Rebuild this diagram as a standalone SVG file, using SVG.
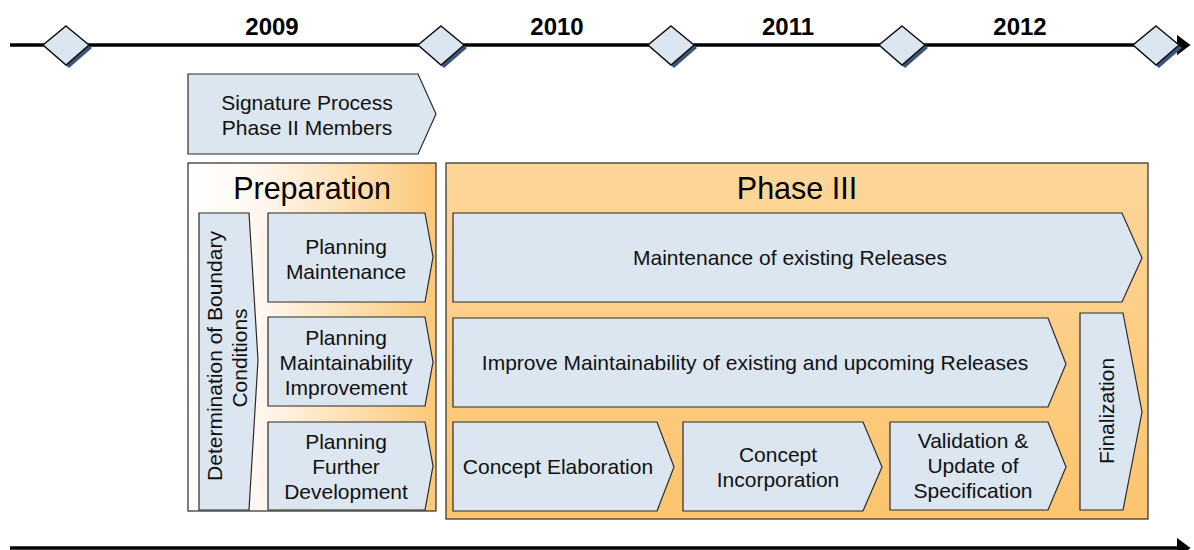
<svg xmlns="http://www.w3.org/2000/svg" width="1194" height="550" viewBox="0 0 1194 550">
<style>
.box{fill:#dce6f0;stroke:#2b2b2b;stroke-width:1.2}
.dia{fill:#dce6f0;stroke:#111;stroke-width:1.5}
.sh{fill:#3a5577}
.t{font-family:"Liberation Sans",Arial,sans-serif;font-size:21px;fill:#111;text-anchor:middle}
.yr{font-family:"Liberation Sans",Arial,sans-serif;font-size:24px;font-weight:bold;fill:#000;text-anchor:middle}
.ttl{font-family:"Liberation Sans",Arial,sans-serif;font-size:30.5px;fill:#000;text-anchor:middle}
.line{stroke:#000;stroke-width:3.5;fill:none}
</style>
<defs>
<marker id="ah" markerWidth="6" markerHeight="6" refX="1" refY="3" orient="auto" markerUnits="strokeWidth">
<path d="M0,0 L4,3 L0,6 Z" fill="#000"/>
</marker>
<linearGradient id="gPrep" x1="0" y1="0" x2="1" y2="0">
<stop offset="0" stop-color="#ffffff"/>
<stop offset="0.3" stop-color="#fff7ee"/>
<stop offset="1" stop-color="#fcc877"/>
</linearGradient>
<linearGradient id="gPh3" x1="0" y1="0" x2="0" y2="1">
<stop offset="0" stop-color="#fdd699"/>
<stop offset="1" stop-color="#fcc46e"/>
</linearGradient>
</defs>
<rect width="1194" height="550" fill="#fff"/>

<g id="connectors">
<line class="line" x1="10" y1="45" x2="1180" y2="45" marker-end="url(#ah)"/>
<line class="line" x1="10" y1="548" x2="1180" y2="548" stroke-width="3" marker-end="url(#ah)"/>
</g>

<g id="milestones">
<g id="m0"><polygon class="sh" points="69,29 92,48 69,68 46,48"/><polygon class="dia" points="66,26 89,45 66,65 43,45"/></g>
<g id="m1"><polygon class="sh" points="444,29 467,48 444,68 421,48"/><polygon class="dia" points="441,26 464,45 441,65 418,45"/></g>
<g id="m2"><polygon class="sh" points="674,29 697,48 674,68 651,48"/><polygon class="dia" points="671,26 694,45 671,65 648,45"/></g>
<g id="m3"><polygon class="sh" points="905,29 928,48 905,68 882,48"/><polygon class="dia" points="902,26 925,45 902,65 879,45"/></g>
<g id="m4"><polygon class="sh" points="1159,29 1182,48 1159,68 1136,48"/><polygon class="dia" points="1156,26 1179,45 1156,65 1133,45"/></g>
</g>

<g id="years">
<text class="yr" x="272" y="35">2009</text>
<text class="yr" x="557" y="35">2010</text>
<text class="yr" x="788" y="35">2011</text>
<text class="yr" x="1020" y="35">2012</text>
</g>

<g id="signature">
<polygon class="box" points="188,74 418,74 436,114 418,154 188,154"/>
<text class="t" x="307" y="110">Signature Process</text>
<text class="t" x="307" y="135">Phase II Members</text>
</g>

<g id="preparation">
<rect x="188" y="163" width="248" height="348" fill="url(#gPrep)" stroke="#2b2b2b" stroke-width="1.2"/>
<text class="ttl" x="312" y="199">Preparation</text>
</g>

<g id="boundary">
<polygon class="box" points="199,213 249,213 258,360 249,510 199,510"/>
<text class="t" transform="translate(222,356) rotate(-90)">Determination of Boundary</text>
<text class="t" transform="translate(247,358) rotate(-90)">Conditions</text>
</g>

<g id="planMaint">
<polygon class="box" points="268,213 425,213 433,257 425,302 268,302"/>
<text class="t" x="346" y="254">Planning</text>
<text class="t" x="346" y="279">Maintenance</text>
</g>

<g id="planImprove">
<polygon class="box" points="268,317 425,317 433,362 425,406 268,406"/>
<text class="t" x="346" y="345">Planning</text>
<text class="t" x="346" y="370">Maintainability</text>
<text class="t" x="346" y="395">Improvement</text>
</g>

<g id="planFurther">
<polygon class="box" points="268,422 425,422 433,466 425,510 268,510"/>
<text class="t" x="346" y="449">Planning</text>
<text class="t" x="346" y="474">Further</text>
<text class="t" x="346" y="499">Development</text>
</g>

<g id="phase3">
<rect x="446" y="163" width="702" height="356" fill="url(#gPh3)" stroke="#2b2b2b" stroke-width="1.2"/>
<text class="ttl" x="797" y="199">Phase III</text>
</g>

<g id="maintExisting">
<polygon class="box" points="453,213 1122,213 1142,258 1122,302 453,302"/>
<text class="t" x="790" y="265">Maintenance of existing Releases</text>
</g>

<g id="improve">
<polygon class="box" points="453,318 1048,318 1066,364 1048,407 453,407"/>
<text class="t" x="755" y="370">Improve Maintainability of existing and upcoming Releases</text>
</g>

<g id="finalization">
<polygon class="box" points="1080,313 1123,313 1142,412 1123,510 1080,510"/>
<text class="t" transform="translate(1114,411) rotate(-90)">Finalization</text>
</g>

<g id="conceptElab">
<polygon class="box" points="453,422 657,422 674,467 657,511 453,511"/>
<text class="t" x="558" y="474">Concept Elaboration</text>
</g>

<g id="conceptInc">
<polygon class="box" points="683,422 863,422 882,467 863,511 683,511"/>
<text class="t" x="778" y="462">Concept</text>
<text class="t" x="778" y="487">Incorporation</text>
</g>

<g id="validation">
<polygon class="box" points="890,422 1048,422 1066,467 1048,510 890,510"/>
<text class="t" x="973" y="448">Validation &amp;</text>
<text class="t" x="973" y="473">Update of</text>
<text class="t" x="973" y="498">Specification</text>
</g>
</svg>
